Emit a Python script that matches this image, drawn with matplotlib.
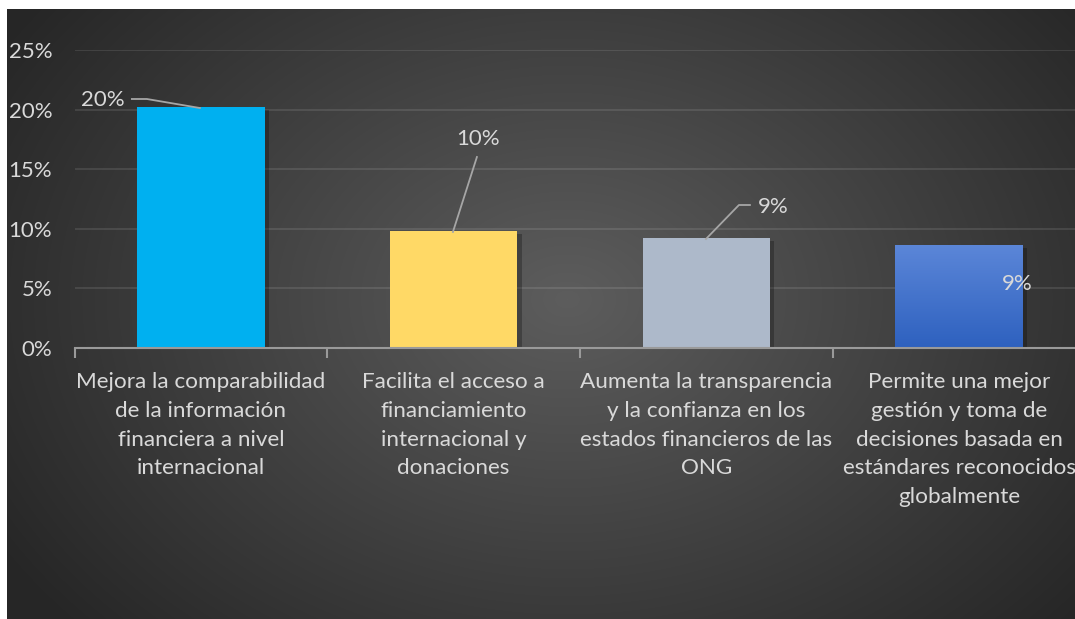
import numpy as np
import matplotlib
matplotlib.use("Agg")
import matplotlib.pyplot as plt
import matplotlib.patheffects as pe

plt.rcParams['font.family'] = ['Lato', 'DejaVu Sans']

categories = [
    "Mejora la comparabilidad\nde la información\nfinanciera a nivel\ninternacional",
    "Facilita el acceso a\nfinanciamiento\ninternacional y\ndonaciones",
    "Aumenta la transparencia\ny la confianza en los\nestados financieros de las\nONG",
    "Permite una mejor\ngestión y toma de\ndecisiones basada en\nestándares reconocidos\nglobalmente",
]
values = [20.2, 9.8, 9.2, 8.6]
value_labels = ["20%", "10%", "9%", "9%"]
yticks = [0, 5, 10, 15, 20, 25]
ytick_labels = ["0%", "5%", "10%", "15%", "20%", "25%"]
colors = ["#00b0f0", "#ffd966", "#adb9ca", "#4472c4"]

W, H = 1075, 619
fig = plt.figure(figsize=(W / 100, H / 100), dpi=100)
fig.patch.set_facecolor("white")

# background radial gradient
bg = fig.add_axes([7 / W, 0, 1 - 7 / W, 1 - 9 / H])
bg.set_axis_off()
yy, xx = np.mgrid[0:610, 0:1068]
cx, cy = 560, 290
r = np.sqrt(((xx - cx) / 580.0) ** 2 + ((yy - cy) / 430.0) ** 2)
val = (93 - 55 * np.clip(r, 0, 1.15) / 1.15) / 255.0
img = np.dstack([val, val, val])
bg.imshow(img, aspect="auto", extent=[0, 1, 0, 1], origin="upper")
bg.set_xlim(0, 1)
bg.set_ylim(0, 1)

# main axes
left_px, right_px = 74.5, 1075
bottom_px, top_px = 348, 50
ax = fig.add_axes([left_px / W, (H - bottom_px) / H, (right_px - left_px) / W,
                   (bottom_px - top_px) / H])
ax.patch.set_alpha(0)
x = np.arange(len(categories))
bars = ax.bar(x, values, width=0.505, color=colors, zorder=3)
for b in bars:
    b.set_path_effects([pe.SimplePatchShadow(offset=(3, -2), shadow_rgbFace="black", alpha=0.25),
                        pe.Normal()])

# gradient for last bar
b4 = bars[3]
grad = np.linspace(0, 1, 100)[:, None]
c_top = np.array([0x5b, 0x86, 0xd8]) / 255.0
c_bot = np.array([0x2e, 0x61, 0xbf]) / 255.0
gimg = c_top[None, None, :] * (1 - grad[:, :, None]) + c_bot[None, None, :] * grad[:, :, None]
gimg = np.repeat(gimg, 2, axis=1)
bx, bw, bh = b4.get_x(), b4.get_width(), b4.get_height()
im = ax.imshow(gimg, extent=[bx, bx + bw, 0, bh], aspect="auto", zorder=3.5, origin="upper")
im.set_clip_path(b4)

ax.set_yticks(yticks)
ax.set_yticklabels(ytick_labels)
ax.yaxis.grid(True, color="white", alpha=0.1, lw=1.5, zorder=0)
ax.set_axisbelow(True)
ax.set_xticks(np.arange(-0.5, len(categories) - 0.5, 1.0), minor=True)
ax.set_xticks(x)
ax.set_xticklabels(categories, linespacing=1.56)
ax.set_xlim(-0.5, (right_px - 201) / 252.7)
ax.set_ylim(0, 25)
ax.tick_params(axis="x", which="major", length=0, pad=17, labelsize=16.2, labelcolor="#d9d9d9")
ax.tick_params(axis="x", which="minor", length=7, width=1.5, color="#9a9a9a")
ax.tick_params(axis="y", length=0, pad=16, labelsize=16, labelcolor="#d9d9d9")
for s in ["top", "right", "left"]:
    ax.spines[s].set_visible(False)
ax.spines["bottom"].set_color("#9a9a9a")
ax.spines["bottom"].set_linewidth(1.5)
ax.spines["bottom"].set_zorder(5)


def px(xp, yp):
    return (xp - 201) / 252.7, (348 - yp) / 11.92


# data labels with leader lines (pixel layout)
label_pos = [(103, 100), (478, 139), (773, 207), (1017, 284)]
leaders = [
    [(132, 99), (147, 99), (200, 108)],
    [(477, 157), (453, 232)],
    [(750, 205), (739, 205), (706, 239)],
    None,
]
for i, lbl in enumerate(value_labels):
    tx, ty = px(*label_pos[i])
    ax.text(tx, ty, lbl, ha="center", va="center", fontsize=16, color="#d9d9d9", zorder=6)
    if leaders[i]:
        pts = [px(*p) for p in leaders[i]]
        ax.plot([p[0] for p in pts], [p[1] for p in pts], color="#a6a6a6", lw=1.3,
                zorder=6, clip_on=False)

fig.savefig("out.png", dpi=100)
